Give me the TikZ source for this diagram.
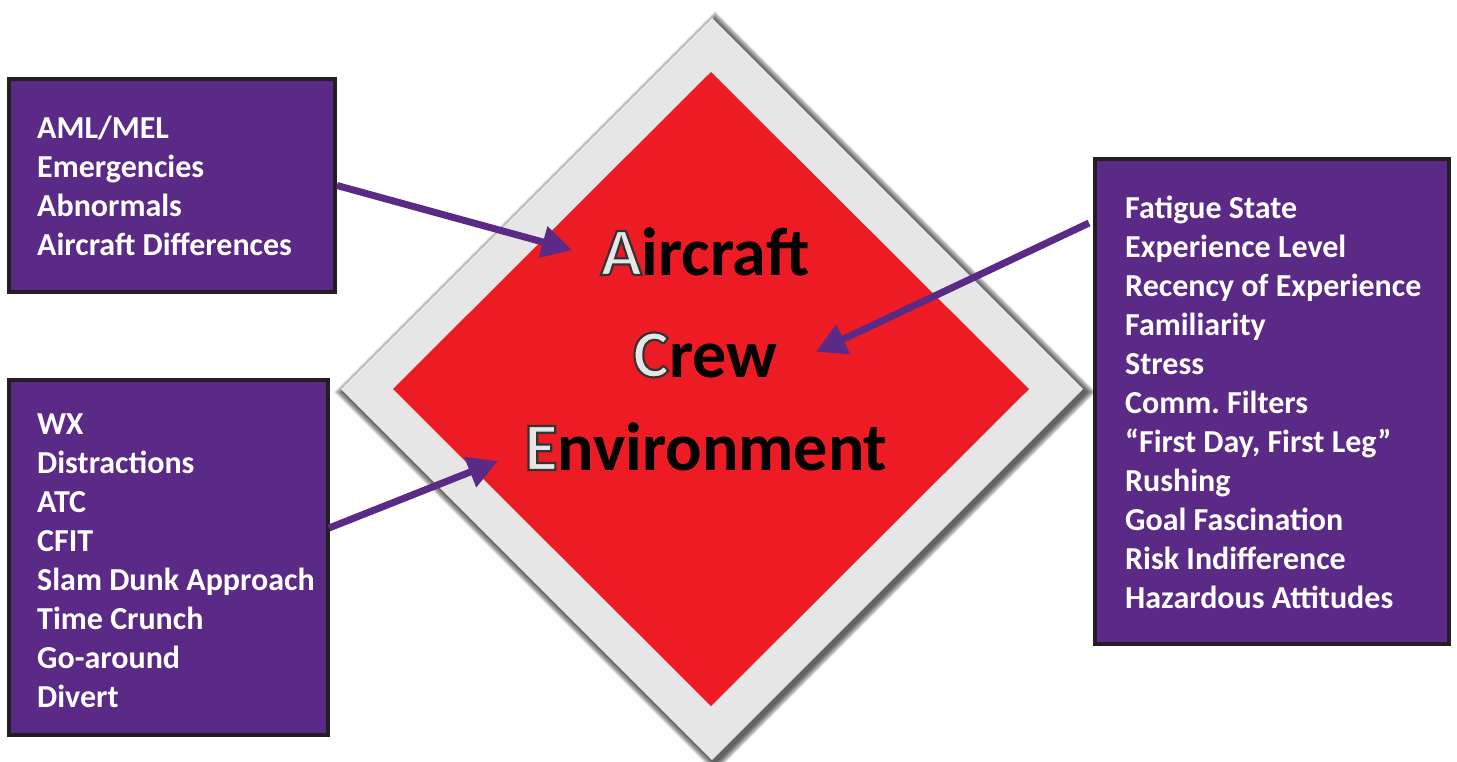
\documentclass[tikz,border=0pt]{standalone}
\usepackage{fontspec}
\setmainfont{Carlito}
\usetikzlibrary{arrows.meta}
\definecolor{pur}{HTML}{5B2A86}
\definecolor{dred}{HTML}{ED1C24}
\definecolor{lgrey}{HTML}{E6E6E6}
\definecolor{bord}{HTML}{231F20}
\frenchspacing
\newcommand{\initl}[1]{{\color{lgrey}\special{pdf:literal 2 Tr 2.2 w 0.2 0.2 0.2 RG}#1\special{pdf:literal 0 Tr}}}
\tikzset{
  box/.style={draw=bord, line width=4pt, fill=pur, rectangle, inner sep=0pt},
  item/.style={anchor=base west, inner sep=0pt, text=white, font=\fontsize{32}{39}\selectfont\bfseries},
  big/.style={anchor=base, inner sep=0pt, text=black, font=\fontsize{68}{80}\selectfont\bfseries},
  arr/.style={draw=pur, line width=7pt, -{Triangle[length=30pt,width=31pt]}}
}
\begin{document}
\begin{tikzpicture}[x=1pt,y=-1pt]
\useasboundingbox (0,0) rectangle (1457,761);
% diamond shadow
\foreach \d in {1,...,10}
  \fill[black, opacity=0.09] (715,{392-371-\d}) -- ({715+371+\d},392) -- (715,{392+371+\d}) -- ({715-371-\d},392) -- cycle;
\fill[lgrey] (712,18) -- (1083,389) -- (712,760) -- (341,389) -- cycle;
\fill[dred] (711,72) -- (1029,389) -- (711,706) -- (393,389) -- cycle;
% boxes
\node[box, minimum width=326pt, minimum height=213pt] (box1) at (172,185.5) {};
\node[box, minimum width=319pt, minimum height=355pt] (box2) at (168.5,557.5) {};
\node[box, minimum width=354pt, minimum height=485pt] (box3) at (1272,401.5) {};
% box texts
\foreach \t [count=\i] in {AML/MEL,Emergencies,Abnormals,Aircraft Differences}
  \node[item] (a\i) at (37,{99+39*\i}) {\t};
\foreach \t [count=\i] in {WX,Distractions,ATC,CFIT,Slam Dunk Approach,Time Crunch,Go-around,Divert}
  \node[item] (e\i) at (37,{395+39*\i}) {\t};
\foreach \t [count=\i] in {Fatigue State,Experience Level,Recency of Experience,Familiarity,Stress,Comm. Filters,{“First Day, First Leg”},Rushing,Goal Fascination,Risk Indifference,Hazardous Attitudes}
  \node[item] (c\i) at (1125,{179+39*\i}) {\t};
% centre words
\node[big] (wa) at (705,275) {\initl{A}ircraft};
\node[big] (wc) at (705,377) {\initl{C}rew};
\node[big] (we) at (706,470) {\initl{E}nvironment};
% arrows
\coordinate (t1) at (572,250);
\coordinate (s2) at (1089,223);
\coordinate (t2) at (816,352);
\coordinate (s3) at (329,528);
\coordinate (t3) at (498,461);
\draw[arr] (box1.east) -- (t1);
\draw[arr] (s2) -- (t2);
\draw[arr] (s3) -- (t3);
\end{tikzpicture}
\end{document}
